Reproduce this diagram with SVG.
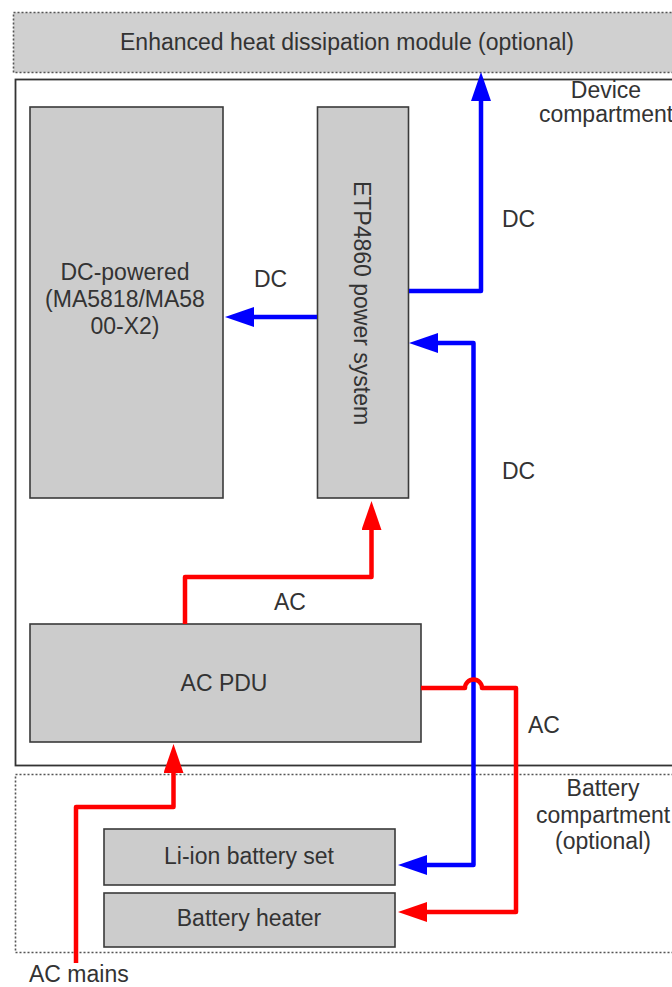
<svg xmlns="http://www.w3.org/2000/svg" width="672" height="987" viewBox="0 0 672 987">
<style>
text{font-family:"Liberation Sans",Arial,sans-serif;font-size:23px;fill:#333;}
.c{text-anchor:middle;}
.box{fill:#cccccc;stroke:#3a3a3a;stroke-width:1.6;}
.dash{stroke:#555;stroke-width:1.6;stroke-dasharray:2 2;}
.blue{fill:none;stroke:#0000ff;stroke-width:4.5;stroke-linejoin:round;}
.red{fill:none;stroke:#ff0000;stroke-width:4.5;stroke-linejoin:round;}
</style>
<defs>
<marker id="ab" viewBox="0 0 29 20" refX="0" refY="10" markerWidth="29" markerHeight="20" markerUnits="userSpaceOnUse" orient="auto-start-reverse"><path d="M0 0L29 10L0 20Z" fill="#0000ff"/></marker>
<marker id="ar" viewBox="0 0 29 20" refX="0" refY="10" markerWidth="29" markerHeight="20" markerUnits="userSpaceOnUse" orient="auto-start-reverse"><path d="M0 0L29 10L0 20Z" fill="#ff0000"/></marker>
</defs>
<rect width="672" height="987" fill="#fff"/>
<g id="heat-module">
<rect x="13.5" y="12.5" width="680" height="60" fill="#d0d0d0" class="dash"/>
<text class="c" x="347" y="50">Enhanced heat dissipation module (optional)</text>
</g>
<g id="device-compartment">
<rect x="15.5" y="79.5" width="680" height="686" fill="none" stroke="#333" stroke-width="1.8"/>
<text class="c" x="606" y="98">Device</text>
<text class="c" x="606" y="122">compartment</text>
</g>
<g id="battery-compartment">
<rect x="15.5" y="774.5" width="680" height="178" fill="none" class="dash"/>
<text class="c" x="603" y="796">Battery</text>
<text class="c" x="603" y="823">compartment</text>
<text class="c" x="603" y="849">(optional)</text>
</g>
<g id="dc-powered">
<rect class="box" x="30" y="107" width="193" height="391"/>
<text class="c" x="125" y="280">DC-powered</text>
<text class="c" x="125" y="307">(MA5818/MA58</text>
<text class="c" x="125" y="334">00-X2)</text>
</g>
<g id="etp4860">
<rect class="box" x="317.5" y="107" width="91" height="391"/>
<text class="c" transform="translate(362 303) rotate(90)" x="0" y="8">ETP4860 power system</text>
</g>
<g id="ac-pdu">
<rect class="box" x="30" y="624" width="391" height="118"/>
<text class="c" x="224" y="691">AC PDU</text>
</g>
<g id="li-ion">
<rect class="box" x="104" y="829" width="291" height="56"/>
<text class="c" x="249" y="864">Li-ion battery set</text>
</g>
<g id="battery-heater">
<rect class="box" x="104" y="893" width="291" height="54"/>
<text class="c" x="249" y="926">Battery heater</text>
</g>
<g id="connectors">
<path class="blue" d="M409 291H481V101" marker-end="url(#ab)"/>
<path class="blue" d="M317 317H254" marker-end="url(#ab)"/>
<path class="blue" d="M438 343H473.5V865H427" marker-start="url(#ab)" marker-end="url(#ab)"/>
<path class="red" d="M185 624V577H371.5V530" marker-end="url(#ar)"/>
<path class="red" d="M76 963V807H173.5V773" marker-end="url(#ar)"/>
<path class="red" d="M421 688H465A8.5 8.5 0 0 1 482 688H516V912H427" marker-end="url(#ar)"/>
<text x="254" y="287">DC</text>
<text x="502" y="227">DC</text>
<text x="502" y="479">DC</text>
<text x="274" y="610">AC</text>
<text x="528" y="733">AC</text>
<text x="29" y="982">AC mains</text>
</g>
</svg>
